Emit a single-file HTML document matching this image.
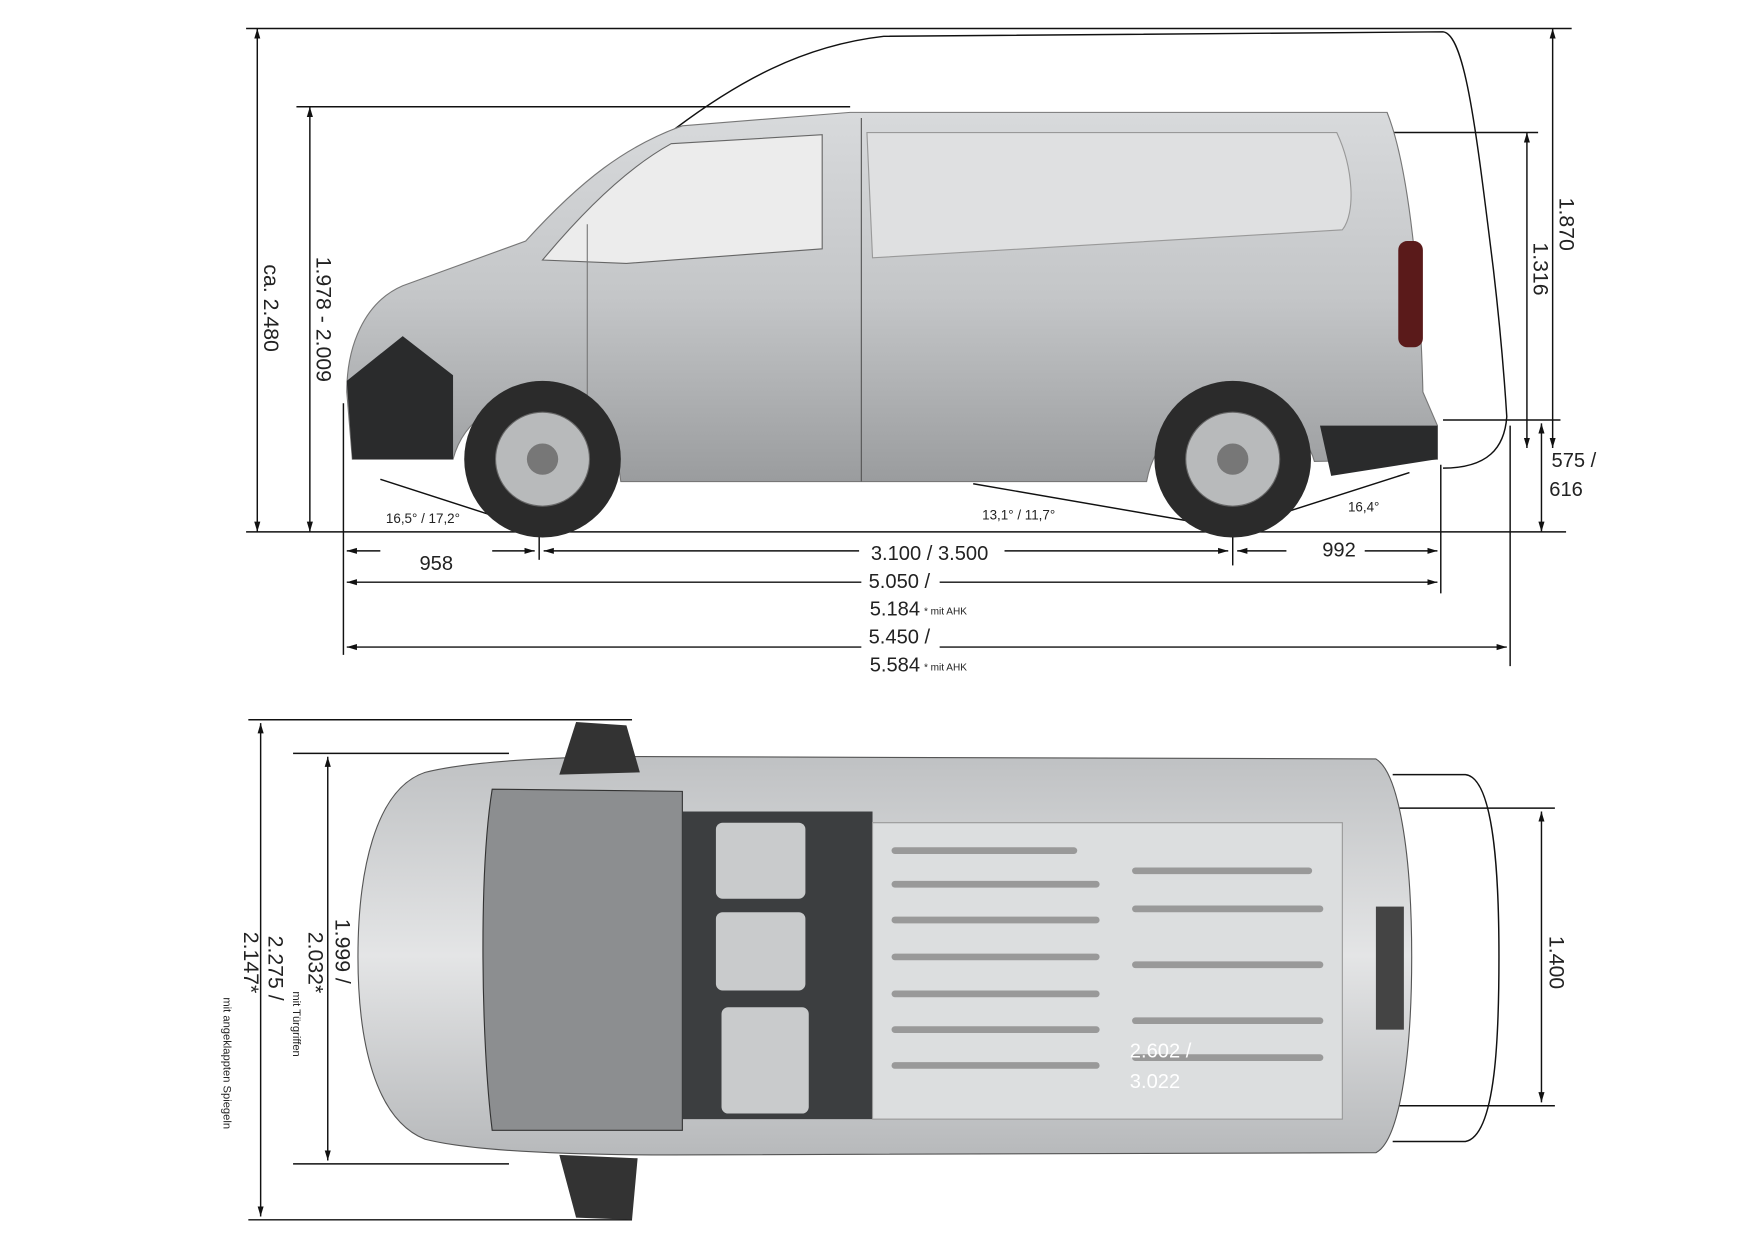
<!DOCTYPE html>
<html><head><meta charset="utf-8"><style>
html,body{margin:0;padding:0;background:#fff}
svg{display:block}
text{font-family:"Liberation Sans",sans-serif;fill:#222}
</style></head><body>
<svg width="1754" height="1255" viewBox="0 0 1568 1121" xmlns="http://www.w3.org/2000/svg">
<defs>
<marker id="a" viewBox="0 0 10 10" refX="10" refY="5" markerWidth="7" markerHeight="7" orient="auto-start-reverse"><path d="M0,2 L10,5 L0,8z" fill="#111"/></marker>
<linearGradient id="g" x1="0" y1="0" x2="0" y2="1"><stop offset="0" stop-color="#d8dadc"/><stop offset="0.5" stop-color="#c4c6c8"/><stop offset="1" stop-color="#9a9c9e"/></linearGradient>
<linearGradient id="t" x1="0" y1="0" x2="0" y2="1"><stop offset="0" stop-color="#bfc1c3"/><stop offset="0.5" stop-color="#e4e5e6"/><stop offset="1" stop-color="#b7b9bb"/></linearGradient>
</defs>
<g stroke="#111" stroke-width="1.3" fill="none">
<line x1="220" y1="25" x2="1405" y2="25"/>
<line x1="265" y1="95" x2="760" y2="95"/>
<line x1="220" y1="475" x2="1400" y2="475"/>
<line x1="1240" y1="118" x2="1375" y2="118"/>
<line x1="1290" y1="375" x2="1395" y2="375"/>
<path d="M590,125 C660,70 720,40 790,32 L1290,28 C1310,30 1320,120 1335,240 C1342,300 1345,340 1347,372 C1345,400 1330,418 1290,418"/>
<line x1="230" y1="25" x2="230" y2="475" marker-start="url(#a)" marker-end="url(#a)"/>
<line x1="277" y1="95" x2="277" y2="475" marker-start="url(#a)" marker-end="url(#a)"/>
<line x1="1388" y1="25" x2="1388" y2="400" marker-start="url(#a)" marker-end="url(#a)"/>
<line x1="1365" y1="118" x2="1365" y2="400" marker-start="url(#a)" marker-end="url(#a)"/>
<line x1="1378" y1="378" x2="1378" y2="475" marker-start="url(#a)" marker-end="url(#a)"/>
<line x1="307" y1="360" x2="307" y2="585"/>
<line x1="1350" y1="380" x2="1350" y2="595"/>
<line x1="1288" y1="415" x2="1288" y2="530"/>
<line x1="482" y1="420" x2="482" y2="500"/>
<line x1="1102" y1="420" x2="1102" y2="505"/>
<line x1="310" y1="492" x2="478" y2="492" marker-start="url(#a)" marker-end="url(#a)"/>
<line x1="486" y1="492" x2="1098" y2="492" marker-start="url(#a)" marker-end="url(#a)"/>
<line x1="1106" y1="492" x2="1285" y2="492" marker-start="url(#a)" marker-end="url(#a)"/>
<line x1="310" y1="520" x2="1285" y2="520" marker-start="url(#a)" marker-end="url(#a)"/>
<line x1="310" y1="578" x2="1347" y2="578" marker-start="url(#a)" marker-end="url(#a)"/>
<line x1="340" y1="428" x2="470" y2="470"/>
<line x1="870" y1="432" x2="1090" y2="470"/>
<line x1="1110" y1="470" x2="1260" y2="422"/>
</g>
<path d="M310,350 C310,310 325,270 360,255 L470,215 C520,160 560,130 610,112 L760,100 L1240,100 C1260,150 1270,260 1272,350 L1285,380 L1285,410 L1175,412 C1160,355 1040,345 1025,430 L555,430 C545,335 425,335 405,410 L315,410 Z" fill="url(#g)" stroke="#777"/>
<path d="M775,118 L1195,118 C1210,150 1212,190 1200,205 L780,230 Z" fill="#dfe0e1" stroke="#999"/>
<path d="M485,232 C520,190 560,150 600,128 L735,120 L735,222 L560,235 Z" fill="#ececec" stroke="#666"/>
<path d="M310,340 L360,300 L405,335 L405,410 L315,410 Z" fill="#2a2b2c"/>
<path d="M1180,380 L1285,380 L1285,410 L1190,425 Z" fill="#2a2b2c"/>
<rect x="1250" y="215" width="22" height="95" rx="8" fill="#5a1a1a"/>
<line x1="770" y1="105" x2="770" y2="430" stroke="#555"/>
<line x1="525" y1="200" x2="525" y2="430" stroke="#777"/>
<g fill="#2b2b2b"><circle cx="485" cy="410" r="70"/><circle cx="1102" cy="410" r="70"/></g>
<g fill="#b8babb" stroke="#666"><circle cx="485" cy="410" r="42"/><circle cx="1102" cy="410" r="42"/></g>
<g fill="#777"><circle cx="485" cy="410" r="14"/><circle cx="1102" cy="410" r="14"/></g>
<text transform="translate(236,275) rotate(90)" font-size="19" text-anchor="middle">ca. 2.480</text>
<text transform="translate(283,285) rotate(90)" font-size="19" text-anchor="middle">1.978 - 2.009</text>
<text transform="translate(1394,200) rotate(90)" font-size="19" text-anchor="middle">1.870</text>
<text transform="translate(1371,240) rotate(90)" font-size="19" text-anchor="middle">1.316</text>
<g font-size="18" text-anchor="middle">
<rect x="340" y="482" width="100" height="20" fill="#fff"/>
<text x="390" y="509">958</text>
<rect x="768" y="482" width="130" height="20" fill="#fff"/>
<text x="831" y="500">3.100 / 3.500</text>
<rect x="1150" y="482" width="70" height="20" fill="#fff"/>
<text x="1197" y="497">992</text>
<rect x="770" y="510" width="70" height="20" fill="#fff"/>
<text x="804" y="525">5.050 /</text>
<text x="800" y="550">5.184</text>
<rect x="770" y="568" width="70" height="20" fill="#fff"/>
<text x="804" y="575">5.450 /</text>
<text x="800" y="600">5.584</text>
<text x="1407" y="417">575 /</text>
<text x="1400" y="443">616</text>
</g>
<text x="826" y="549" font-size="9">* mit AHK</text>
<text x="826" y="599" font-size="9">* mit AHK</text>
<g font-size="12"><text x="345" y="467">16,5° / 17,2°</text><text x="878" y="464">13,1° / 11,7°</text><text x="1205" y="457">16,4°</text></g>

<g stroke="#111" stroke-width="1.3" fill="none">
<line x1="222" y1="643" x2="565" y2="643"/>
<line x1="222" y1="1090" x2="565" y2="1090"/>
<line x1="262" y1="673" x2="455" y2="673"/>
<line x1="262" y1="1040" x2="455" y2="1040"/>
<line x1="233" y1="646" x2="233" y2="1087" marker-start="url(#a)" marker-end="url(#a)"/>
<line x1="293" y1="676" x2="293" y2="1037" marker-start="url(#a)" marker-end="url(#a)"/>
<line x1="1230" y1="722" x2="1390" y2="722"/>
<line x1="1230" y1="988" x2="1390" y2="988"/>
<line x1="1378" y1="725" x2="1378" y2="985" marker-start="url(#a)" marker-end="url(#a)"/>
<path d="M1245,692 L1310,692 C1338,695 1340,800 1340,855 C1340,920 1338,1015 1310,1020 L1245,1020"/>
</g>
<path d="M380,690 C420,680 500,675 600,676 L1230,678 C1250,690 1262,760 1262,855 C1262,950 1250,1020 1230,1030 L600,1032 C500,1032 420,1028 380,1018 C335,1000 320,930 320,855 C320,780 335,705 380,690 Z" fill="url(#t)" stroke="#555"/>
<path d="M440,705 L610,707 L610,1010 L440,1010 C430,930 428,780 440,705 Z" fill="#8c8e90" stroke="#333"/>
<rect x="610" y="725" width="170" height="275" fill="#3c3e40"/>
<g fill="#c9cbcc"><rect x="640" y="735" width="80" height="68" rx="6"/><rect x="640" y="815" width="80" height="70" rx="6"/><rect x="645" y="900" width="78" height="95" rx="6"/></g>
<rect x="780" y="735" width="420" height="265" fill="#dcdedf" stroke="#999"/>
<g stroke="#999" stroke-width="6" stroke-linecap="round">
<line x1="800" y1="760" x2="960" y2="760"/><line x1="1015" y1="778" x2="1170" y2="778"/>
<line x1="800" y1="790" x2="980" y2="790"/><line x1="1015" y1="812" x2="1180" y2="812"/>
<line x1="800" y1="822" x2="980" y2="822"/><line x1="1015" y1="862" x2="1180" y2="862"/>
<line x1="800" y1="855" x2="980" y2="855"/><line x1="1015" y1="912" x2="1180" y2="912"/>
<line x1="800" y1="888" x2="980" y2="888"/><line x1="1015" y1="945" x2="1180" y2="945"/>
<line x1="800" y1="920" x2="980" y2="920"/><line x1="800" y1="952" x2="980" y2="952"/>
</g>
<path d="M515,645 L560,648 L572,690 L500,692 Z" fill="#333"/>
<path d="M500,1032 L570,1035 L565,1090 L515,1088 Z" fill="#333"/>
<rect x="1230" y="810" width="25" height="110" fill="#444"/>
<text transform="translate(240,865) rotate(90)" font-size="19" text-anchor="middle">2.275 /</text>
<text transform="translate(218,860) rotate(90)" font-size="19" text-anchor="middle">2.147*</text>
<text transform="translate(200,950) rotate(90)" font-size="10" text-anchor="middle">mit angeklappten Spiegeln</text>
<text transform="translate(300,850) rotate(90)" font-size="19" text-anchor="middle">1.999 /</text>
<text transform="translate(276,860) rotate(90)" font-size="19" text-anchor="middle">2.032*</text>
<text transform="translate(262,915) rotate(90)" font-size="10" text-anchor="middle">mit Türgriffen</text>
<text transform="translate(1385,860) rotate(90)" font-size="19" text-anchor="middle">1.400</text>
<text x="1010" y="945" font-size="18" style="fill:#fff">2.602 /</text>
<text x="1010" y="972" font-size="18" style="fill:#fff">3.022</text>
</svg>
</body></html>
